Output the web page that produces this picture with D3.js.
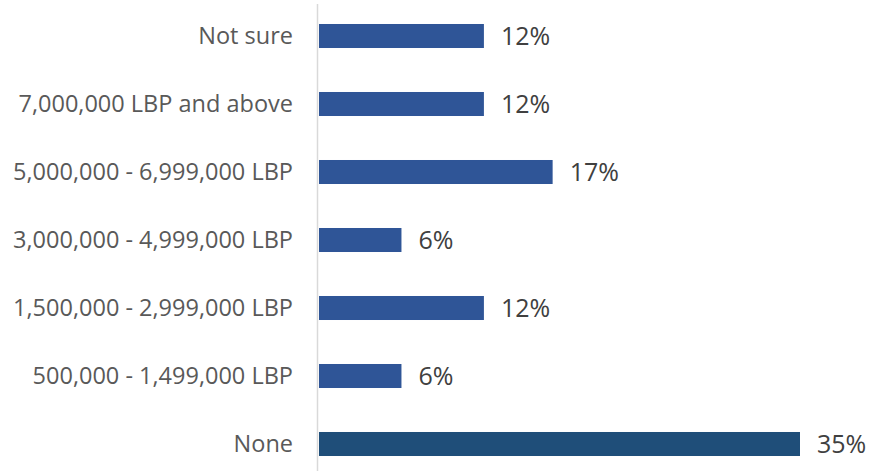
<!DOCTYPE html>
<html><head><meta charset="utf-8">
<script src="https://cdn.jsdelivr.net/npm/d3@7"></script>
<style>body{margin:0;background:#fff}svg{display:block}</style>
</head><body>
<svg id="c" width="879" height="474"></svg>
<script>
const categories = ["Not sure","7,000,000 LBP and above","5,000,000 - 6,999,000 LBP","3,000,000 - 4,999,000 LBP","1,500,000 - 2,999,000 LBP","500,000 - 1,499,000 LBP","None"];
const values = [12,12,17,6,12,6,35];
const colors = ["#2F5597","#2F5597","#2F5597","#2F5597","#2F5597","#2F5597","#1F4E79"];

const svg = d3.select("#c");
const x = d3.scaleLinear().domain([0,35]).range([319,800]);
const y = d3.scaleBand().domain(categories).range([2,478]).paddingInner(0.647).paddingOuter(0.3235);

svg.append("line").attr("x1",317.5).attr("x2",317.5).attr("y1",4).attr("y2",471)
  .attr("stroke","#D9D9D9").attr("stroke-width",1.5);

const data = categories.map((c,i)=>({c,v:values[i],col:colors[i]}));
svg.selectAll("rect.bar").data(data).join("rect").attr("class","bar")
  .attr("x",x(0)).attr("y",d=>y(d.c)).attr("width",d=>x(d.v)-x(0)).attr("height",y.bandwidth())
  .attr("fill",d=>d.col);

svg.selectAll("text.val").data(data).join("text").attr("class","val")
  .attr("x",d=>x(d.v)+17).attr("y",d=>y(d.c)+y.bandwidth()/2).attr("dy","0.36em")
  .attr("font-family","Open Sans, sans-serif").attr("font-size",25).attr("fill","#404040")
  .text(d=>d.v+"%");

svg.selectAll("text.cat").data(data).join("text").attr("class","cat")
  .attr("x",293).attr("y",d=>y(d.c)+y.bandwidth()/2).attr("dy","0.36em").attr("text-anchor","end")
  .attr("font-family","Open Sans, sans-serif").attr("font-size",23.5).attr("fill","#595959")
  .text(d=>d.c);
</script>
</body></html>
